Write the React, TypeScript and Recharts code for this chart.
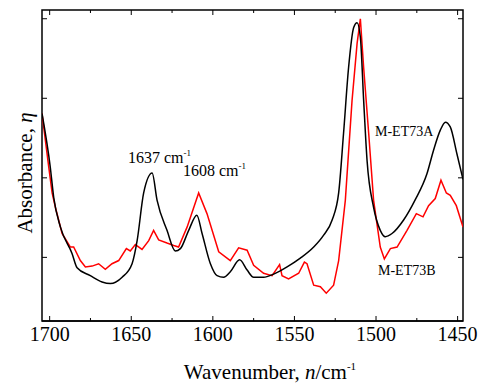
import * as React from "react";
import { LineChart, Line, XAxis, YAxis, Customized } from "recharts";

// M-ET73A (black) — wavenumber / absorbance
const blackWn = [
  1704.7, 1699.6, 1697.5, 1693.4, 1686.3, 1683.2, 1675.1, 1667.9, 1662.8, 1655.6,
  1649.5, 1646.4, 1642.4, 1637.2, 1634.2, 1628.1, 1623.0, 1619.9, 1614.8, 1609.8,
  1606.6, 1601.5, 1597.4, 1593.4, 1589.3, 1583.6, 1579.0, 1575.0, 1568.9, 1562.7,
  1554.5, 1546.4, 1538.2, 1532.1, 1526.9, 1522.9, 1519.9, 1516.8, 1513.7, 1511.6,
  1509.6, 1507.6, 1505.5, 1501.5, 1497.4, 1494.3, 1490.2, 1483.1, 1476.1, 1468.8,
  1464.7, 1460.6, 1457.5, 1454.5, 1450.4, 1446.7,
];
const blackAbs = [
  0.381, 0.313, 0.275, 0.238, 0.205, 0.187, 0.177, 0.169, 0.167, 0.175,
  0.192, 0.221, 0.281, 0.306, 0.272, 0.234, 0.208, 0.211, 0.234, 0.253,
  0.23, 0.192, 0.177, 0.175, 0.182, 0.197, 0.184, 0.175, 0.175, 0.179,
  0.188, 0.199, 0.213, 0.228, 0.247, 0.281, 0.356, 0.439, 0.489, 0.495,
  0.477, 0.398, 0.322, 0.263, 0.234, 0.226, 0.23, 0.247, 0.272, 0.305,
  0.335, 0.36, 0.37, 0.364, 0.33, 0.298,
];

// M-ET73B (red)
const redWn = [
  1704.7, 1700.6, 1698.5, 1696.5, 1692.4, 1687.3, 1685.3, 1681.2, 1678.1, 1674.0,
  1670.0, 1665.9, 1661.8, 1657.7, 1653.0, 1650.6, 1647.5, 1643.4, 1639.3, 1636.3,
  1633.2, 1628.1, 1624.0, 1621.0, 1615.8, 1608.7, 1603.6, 1596.4, 1589.3, 1584.2,
  1579.0, 1575.0, 1568.9, 1563.7, 1559.1, 1557.6, 1553.6, 1547.4, 1543.9, 1542.3,
  1538.2, 1534.1, 1530.5, 1526.0, 1522.9, 1518.8, 1514.7, 1511.6, 1509.6, 1507.6,
  1504.5, 1501.5, 1497.4, 1494.9, 1491.2, 1487.1, 1481.0, 1475.3, 1471.2, 1467.8,
  1463.7, 1460.2, 1456.9, 1454.5, 1450.8, 1446.7,
];
const redAbs = [
  0.381, 0.314, 0.281, 0.263, 0.23, 0.213, 0.213, 0.196, 0.188, 0.189,
  0.192, 0.185, 0.192, 0.196, 0.211, 0.208, 0.216, 0.21, 0.221, 0.234,
  0.222, 0.218, 0.215, 0.213, 0.238, 0.281, 0.255, 0.207, 0.196, 0.212,
  0.209, 0.19, 0.18, 0.177, 0.191, 0.177, 0.173, 0.18, 0.194, 0.192,
  0.165, 0.163, 0.155, 0.165, 0.196, 0.272, 0.397, 0.469, 0.5, 0.439,
  0.356, 0.272, 0.213, 0.198, 0.211, 0.213, 0.234, 0.255, 0.251, 0.265,
  0.274, 0.297, 0.281, 0.278, 0.265, 0.238,
];

const xMajor = [1700, 1650, 1600, 1550, 1500, 1450];
const xMinor = [1675, 1625, 1575, 1525, 1475];
const yTicks = [0.2, 0.3, 0.4, 0.5];

const blackData = blackWn.map((wn, i) => ({ wn, abs: blackAbs[i] }));
const redData = redWn.map((wn, i) => ({ wn, abs: redAbs[i] }));
const xTicks = [...xMajor, ...xMinor].sort((a, b) => a - b);

const W = 484;
const H = 383;
const M = { top: 9, right: 20, left: 41, bottom: 32 };
const X_AXIS_H = 30;
const PLOT_TOP = 10;
const PLOT_BOTTOM = H - M.bottom - X_AXIS_H;
const PLOT_LEFT = 42;
const PLOT_RIGHT = W - 21;
const FONT = "Liberation Serif";
const txt = (size: number) => ({ fontFamily: FONT, fontSize: size });

const BottomTick = (props: any) => {
  const { x, payload } = props;
  const major = xMajor.includes(payload.value);
  return (
    <g>
      <line x1={x} x2={x} y1={PLOT_BOTTOM} y2={PLOT_BOTTOM - (major ? 5 : 3)} stroke="#000" />
      {major && (
        <text x={x} y={341} textAnchor="middle" fill="#000" fontFamily={FONT} fontSize={20} style={txt(20)}>
          {payload.value}
        </text>
      )}
    </g>
  );
};

const TopTick = (props: any) => {
  const { x, payload } = props;
  const major = xMajor.includes(payload.value);
  return <line x1={x} x2={x} y1={PLOT_TOP} y2={PLOT_TOP + (major ? 5 : 3)} stroke="#000" />;
};

const LeftTick = (props: any) => (
  <line x1={PLOT_LEFT} x2={PLOT_LEFT + 5} y1={props.y} y2={props.y} stroke="#000" />
);

const RightTick = (props: any) => (
  <line x1={PLOT_RIGHT} x2={PLOT_RIGHT - 5} y1={props.y} y2={props.y} stroke="#000" />
);

const Annotations = () => (
  <g fill="#000" fontFamily={FONT}>
    <rect
      x={PLOT_LEFT}
      y={PLOT_TOP}
      width={PLOT_RIGHT - PLOT_LEFT}
      height={PLOT_BOTTOM - PLOT_TOP}
      fill="none"
      stroke="#000"
      strokeWidth={1.5}
    />
    <text x={128} y={163} fontFamily={FONT} fontSize={16} style={txt(16)}>
      1637 cm<tspan dy={-7} fontSize={9}>-1</tspan>
    </text>
    <text x={183} y={176} fontFamily={FONT} fontSize={16} style={txt(16)}>
      1608 cm<tspan dy={-7} fontSize={9}>-1</tspan>
    </text>
    <text x={375} y={136} fontFamily={FONT} fontSize={14} style={txt(14)}>M-ET73A</text>
    <text x={378} y={275} fontFamily={FONT} fontSize={14} style={txt(14)}>M-ET73B</text>
    <text x={270} y={379} textAnchor="middle" fontFamily={FONT} fontSize={21} style={txt(21)}>
      Wavenumber, <tspan fontStyle="italic">n</tspan>/cm
      <tspan dy={-9} fontSize={11}>-1</tspan>
    </text>
    <text
      transform="translate(32,173) rotate(-90)"
      x={0}
      y={0}
      textAnchor="middle"
      fontFamily={FONT}
      fontSize={21}
      style={txt(21)}
    >
      Absorbance, <tspan fontStyle="italic">η</tspan>
    </text>
  </g>
);

export default function App() {
  return (
    <div style={{ position: "absolute", left: 0, top: 0, width: W, height: H, background: "#fff" }}>
      <LineChart width={W} height={H} margin={M}>
        <XAxis
          xAxisId="b"
          dataKey="wn"
          type="number"
          domain={[1446.7, 1704.7]}
          allowDataOverflow
          reversed
          ticks={xTicks}
          interval={0}
          height={X_AXIS_H}
          tickLine={false}
          tick={<BottomTick />}
          axisLine={{ stroke: "#000", strokeWidth: 1.5 }}
        />
        <XAxis
          xAxisId="t"
          orientation="top"
          dataKey="wn"
          type="number"
          domain={[1446.7, 1704.7]}
          allowDataOverflow
          reversed
          ticks={xTicks}
          interval={0}
          height={1}
          tickLine={false}
          tick={<TopTick />}
          axisLine={false}
        />
        <YAxis
          yAxisId="l"
          type="number"
          domain={[0.12, 0.511]}
          allowDataOverflow
          ticks={yTicks}
          width={1}
          tickLine={false}
          tick={<LeftTick />}
          axisLine={false}
        />
        <YAxis
          yAxisId="r"
          orientation="right"
          type="number"
          domain={[0.12, 0.511]}
          allowDataOverflow
          ticks={yTicks}
          width={1}
          tickLine={false}
          tick={<RightTick />}
          axisLine={false}
        />
        <Line
          xAxisId="b"
          yAxisId="l"
          data={redData}
          dataKey="abs"
          type="linear"
          stroke="#ff0000"
          strokeWidth={1.5}
          dot={false}
          isAnimationActive={false}
        />
        <Line
          xAxisId="b"
          yAxisId="l"
          data={blackData}
          dataKey="abs"
          type="monotone"
          stroke="#000"
          strokeWidth={1.5}
          dot={false}
          isAnimationActive={false}
        />
        <Customized component={Annotations} />
      </LineChart>
    </div>
  );
}
